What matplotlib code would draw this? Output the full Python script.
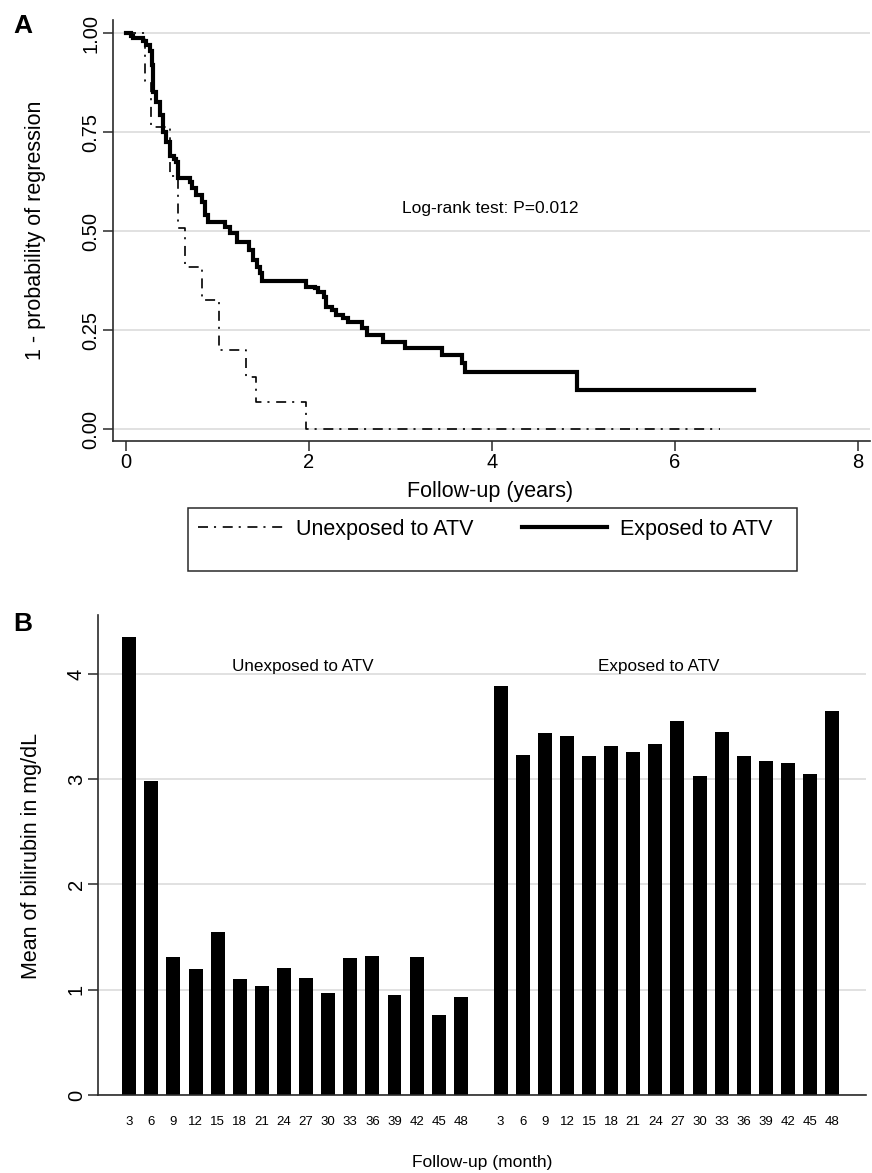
import matplotlib
matplotlib.use('Agg')
import matplotlib.pyplot as plt
from matplotlib.patches import Rectangle

plt.rcParams['font.family'] = ['Liberation Sans', 'DejaVu Sans']
plt.rcParams['lines.scale_dashes'] = False

# ---------------- Panel A data (Kaplan-Meier, 1 - probability of regression) ----
unexp_t = [0, 0.21, 0.27, 0.48, 0.57, 0.65, 0.83, 1.02, 1.31, 1.42, 1.97, 6.49]
unexp_s = [1.0, 0.88, 0.763, 0.638, 0.508, 0.41, 0.327, 0.20, 0.132, 0.067, 0.0, 0.0]

exp_t = [0, 0.05, 0.08, 0.19, 0.22, 0.26, 0.28, 0.29, 0.30, 0.33,
         0.37, 0.40, 0.44, 0.48, 0.52, 0.55, 0.57, 0.70, 0.72, 0.77,
         0.83, 0.86, 0.90, 1.08, 1.14, 1.21, 1.34, 1.39, 1.43, 1.46,
         1.49, 1.97, 2.07, 2.10, 2.16, 2.19, 2.25, 2.30, 2.37, 2.43,
         2.58, 2.63, 2.81, 3.05, 3.45, 3.67, 3.70, 4.93, 6.86]
exp_s = [1.0, 0.993, 0.987, 0.980, 0.970, 0.955, 0.92, 0.88, 0.85, 0.826,
         0.793, 0.75, 0.725, 0.69, 0.683, 0.675, 0.633, 0.625, 0.608, 0.591,
         0.574, 0.54, 0.524, 0.511, 0.494, 0.473, 0.452, 0.427, 0.41, 0.393,
         0.375, 0.359, 0.355, 0.345, 0.334, 0.309, 0.30, 0.288, 0.28, 0.271,
         0.254, 0.237, 0.22, 0.204, 0.187, 0.166, 0.145, 0.098, 0.098]

a_xticks = [0, 2, 4, 6, 8]
a_yticks = [0.0, 0.25, 0.5, 0.75, 1.0]
a_ytick_labels = ['0.00', '0.25', '0.50', '0.75', '1.00']

# ---------------- Panel B data (mean bilirubin) ----------------
months = [3, 6, 9, 12, 15, 18, 21, 24, 27, 30, 33, 36, 39, 42, 45, 48]
unexp_bili = [4.35, 2.98, 1.31, 1.20, 1.55, 1.10, 1.04, 1.21,
              1.11, 0.97, 1.30, 1.32, 0.95, 1.31, 0.76, 0.93]
exp_bili = [3.89, 3.23, 3.44, 3.41, 3.22, 3.32, 3.26, 3.33,
            3.55, 3.03, 3.45, 3.22, 3.17, 3.15, 3.05, 3.65]
b_yticks = [0, 1, 2, 3, 4]

W, H = 872, 1173
fig = plt.figure(figsize=(W / 100, H / 100), dpi=100)


def fx(px):
    return px / W


def fy(py):
    return 1 - py / H


grid_c = '#dedede'
spine_c = '#2a2a2a'
fs_tick = 14.5
fs_lab = 15.5

# ================= Panel A =================
axA = fig.add_axes([fx(112.7), fy(440.7), fx(870) - fx(112.7), fy(20) - fy(440.7)])
dash_dot = (0, (7.2, 4.3, 1.5, 4.8))
lu, = axA.step(unexp_t, unexp_s, where='post', color='black', lw=1.2,
               linestyle=dash_dot, label='Unexposed to ATV')
le, = axA.step(exp_t, exp_s, where='post', color='black', lw=3.0,
               solid_joinstyle='miter', label='Exposed to ATV')
axA.set_xlim(-0.145, 8.13)
axA.set_ylim(-0.0295, 1.033)
axA.set_xticks(a_xticks)
axA.set_yticks(a_yticks)
axA.set_yticklabels(a_ytick_labels)
axA.grid(axis='y', color=grid_c, lw=1.3)
axA.set_axisbelow(True)
for s in ['top', 'right']:
    axA.spines[s].set_visible(False)
for s in ['left', 'bottom']:
    axA.spines[s].set_color(spine_c)
    axA.spines[s].set_linewidth(1.2)
axA.tick_params(axis='both', direction='out', length=7, width=1.1,
                color=spine_c, labelsize=fs_tick, pad=2)
axA.tick_params(axis='y', labelrotation=90)
for t in axA.get_yticklabels():
    t.set_va('center')
axA.set_xlabel('Follow-up (years)', fontsize=fs_lab)
axA.xaxis.set_label_coords(fx(490), fy(492), transform=fig.transFigure)
axA.xaxis.label.set_va('center')
axA.set_ylabel('1 - probability of regression', fontsize=fs_lab)
axA.yaxis.set_label_coords(fx(35), fy(230), transform=fig.transFigure)
axA.yaxis.label.set_ha('center')
axA.yaxis.label.set_va('center')
axA.text(3.98, 0.558, 'Log-rank test: P=0.012', ha='center', va='center',
         fontsize=12.5)

# legend box
fig.add_artist(Rectangle((fx(188), fy(571)), fx(797) - fx(188), fy(508) - fy(571),
                         transform=fig.transFigure, fill=False,
                         edgecolor=spine_c, lw=1.1))
fs_leg = fs_lab
hl = 85 / (fs_leg * 100 / 72)
leg1 = axA.legend(handles=[lu], loc='center left',
                  bbox_to_anchor=(fx(198), fy(529)),
                  bbox_transform=fig.transFigure, frameon=False,
                  fontsize=fs_leg, handlelength=hl, handletextpad=0.62,
                  borderpad=0, borderaxespad=0)
axA.add_artist(leg1)
axA.legend(handles=[le], loc='center left',
           bbox_to_anchor=(fx(522), fy(529)),
           bbox_transform=fig.transFigure, frameon=False,
           fontsize=fs_leg, handlelength=hl, handletextpad=0.62,
           borderpad=0, borderaxespad=0)

fig.text(fx(23), fy(26), 'A', fontsize=19, fontweight='bold',
         ha='center', va='center')

# ================= Panel B =================
axB = fig.add_axes([fx(98.3), fy(1095), fx(866) - fx(98.3), fy(615) - fy(1095)])
pos_u = [i for i in range(len(months))]
pos_e = [16.8 + i for i in range(len(months))]
bw = 0.63
axB.bar(pos_u, unexp_bili, width=bw, color='black')
axB.bar(pos_e, exp_bili, width=bw, color='black')
axB.set_xlim(-1.40, 33.33)
axB.set_ylim(0, 4.56)
axB.set_yticks(b_yticks)
axB.set_xticks(pos_u + pos_e)
axB.set_xticklabels([str(m) for m in months] * 2)
axB.grid(axis='y', color=grid_c, lw=1.3)
axB.set_axisbelow(True)
for s in ['top', 'right']:
    axB.spines[s].set_visible(False)
for s in ['left', 'bottom']:
    axB.spines[s].set_color(spine_c)
    axB.spines[s].set_linewidth(1.2)
axB.tick_params(axis='x', length=0, labelsize=9.5, pad=15)
axB.tick_params(axis='y', direction='out', length=7, width=1.1,
                color=spine_c, labelsize=fs_tick, pad=2, labelrotation=90)
for t in axB.get_yticklabels():
    t.set_va('center')
axB.set_xlabel('Follow-up (month)', fontsize=12.5)
axB.xaxis.set_label_coords(fx(482), fy(1163), transform=fig.transFigure)
axB.xaxis.label.set_va('center')
axB.set_ylabel('Mean of bilirubin in mg/dL', fontsize=fs_lab)
axB.yaxis.set_label_coords(fx(32), fy(856), transform=fig.transFigure)
axB.yaxis.label.set_ha('center')
axB.yaxis.label.set_va('center')
axB.text(7.86, 4.07, 'Unexposed to ATV', ha='center', va='center', fontsize=12.3)
axB.text(23.95, 4.07, 'Exposed to ATV', ha='center', va='center', fontsize=12.3)

fig.text(fx(23), fy(624), 'B', fontsize=19, fontweight='bold',
         ha='center', va='center')

fig.savefig('out.png', dpi=100)
